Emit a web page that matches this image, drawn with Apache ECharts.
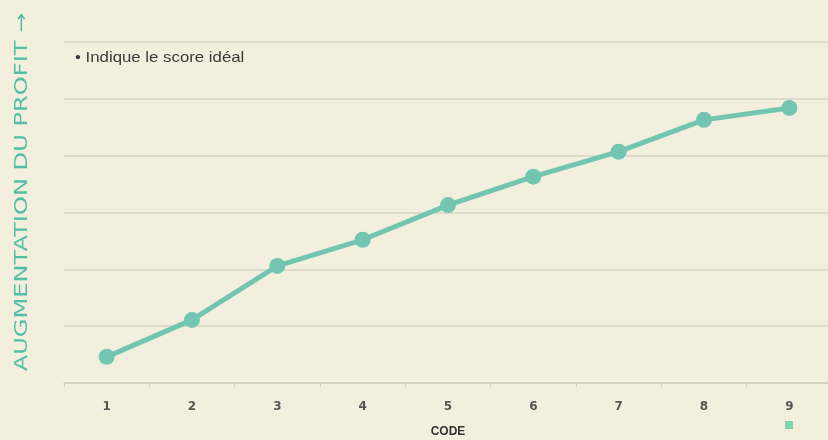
<!DOCTYPE html>
<html><head><meta charset="utf-8">
<script src="https://cdn.jsdelivr.net/npm/echarts@6/dist/echarts.min.js"></script>
<style>html,body{margin:0;padding:0;background:#f3efdf;}#c{width:828px;height:440px;}</style>
</head><body><div id="c"></div>
<script>
const categories = ['1','2','3','4','5','6','7','8','9'];
const profitValues = [0.46, 1.11, 2.06, 2.52, 3.13, 3.63, 4.07, 4.63, 4.84];
const yTicks = [0, 1, 2, 3, 4, 5, 6];
const seriesName = 'Score';
const lineColor = '#72c6b1';

const chart = echarts.init(document.getElementById('c'));
chart.setOption({
  backgroundColor: '#f3efdf',
  animation: false,
  grid: { left: 64, right: -4, top: 42, bottom: 57, containLabel: false, outerBoundsMode: 'none' },
  xAxis: {
    type: 'category', data: categories, boundaryGap: true,
    name: 'CODE', nameLocation: 'middle', nameGap: 43,
    nameTextStyle: { fontFamily: 'Liberation Sans', fontWeight: 'bold', fontSize: 12, color: '#333' },
    axisLine: { show: true, lineStyle: { color: '#d6d2c2', width: 1.5 } },
    axisTick: { show: true, length: 4, lineStyle: { color: '#d6d2c2' } },
    axisLabel: { margin: 18, fontFamily: 'DejaVu Sans', fontWeight: 'bold', fontSize: 12, color: '#555' }
  },
  yAxis: {
    type: 'value', min: yTicks[0], max: yTicks[yTicks.length - 1], interval: 1,
    axisLine: { show: false }, axisTick: { show: false }, axisLabel: { show: false },
    splitLine: { lineStyle: { color: '#d9d4c5', width: 1.5 } }
  },
  legend: {
    data: [seriesName], left: 780, top: 416, itemWidth: 8, itemHeight: 8,
    icon: 'rect', formatter: () => '', textStyle: { fontSize: 1 },
    itemStyle: { color: '#7fd3ae' }
  },
  graphic: [
    { type: 'text', x: 75, y: 58, scaleX: 1.12,
      style: { text: '• Indique le score idéal', font: '15px "Liberation Sans"', fill: '#3a3a3a',
               align: 'left', verticalAlign: 'middle' } },
    { type: 'text', x: 22, y: 192, rotation: Math.PI / 2, scaleX: 1.34,
      style: { text: 'AUGMENTATION DU PROFIT →', font: '18px "DejaVu Sans"', fill: '#52c0a6',
               align: 'center', verticalAlign: 'middle' } }
  ],
  series: [{
    name: seriesName, type: 'line', data: profitValues,
    symbol: 'circle', symbolSize: 16,
    lineStyle: { color: lineColor, width: 5 },
    itemStyle: { color: lineColor }
  }]
});
</script></body></html>
